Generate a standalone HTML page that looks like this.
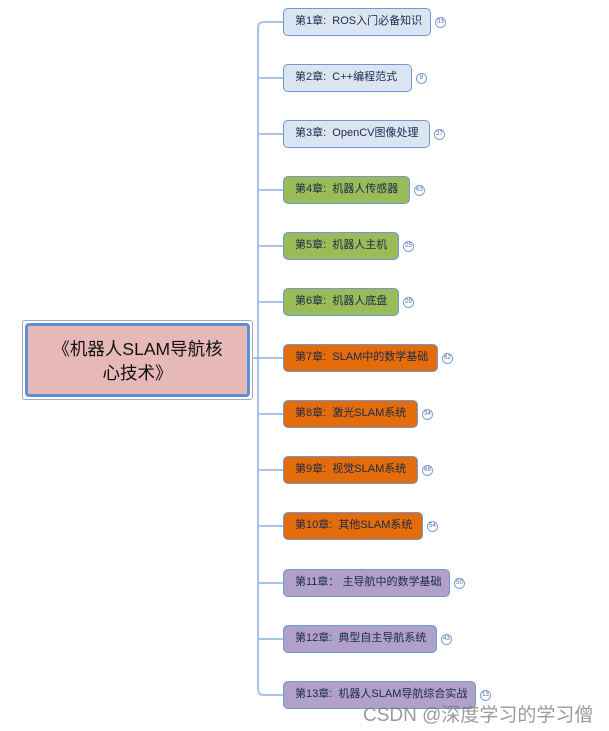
<!DOCTYPE html>
<html><head><meta charset="utf-8"><style>
body{margin:0;width:609px;height:731px;background:#fff;position:relative;overflow:hidden;font-family:"Liberation Sans","Noto Sans CJK SC",sans-serif}
.n{position:absolute;left:283px;height:28px;border:1.5px solid #6f98d4;border-radius:5px;box-sizing:border-box;font-size:11px;color:#1a2a4a;line-height:25px;padding-left:11px;white-space:nowrap}
.b{background:#dbe5f2}.g{background:#9bbb59}.o{background:#e46c0a}.p{background:#b1a0c7}
.c{position:absolute;width:9px;height:9px;border:1px solid #7aa0d4;border-radius:50%;font-size:6px;color:#4a6fa5;text-align:center;line-height:9px;background:#fff}
</style></head><body>
<svg width="609" height="731" style="position:absolute;left:0;top:0">
<g fill="none" stroke="#a9c3e6" stroke-width="2">
<path d="M283 22 H264 Q258 22 258 28 V689 Q258 695 264 695 H283"/>
<path d="M258 78H283M258 134H283M258 190H283M258 246H283M258 302H283M258 414H283M258 470H283M258 526H283M258 583H283M258 639H283"/>
</g>
<path d="M253 358H283" stroke="#7aa0d4" stroke-width="1.2"/>
</svg>
<div style="position:absolute;left:22px;top:320px;width:231px;height:80px;border:1px solid #aaa;border-radius:3px;box-sizing:border-box"></div>
<div style="position:absolute;left:25px;top:323px;width:225px;height:74px;border:3px solid #5b8fd6;border-radius:4px;background:#e6b8b7;box-sizing:border-box;font-size:17.5px;color:#111;text-align:center;line-height:24px;padding-top:11px">《机器人SLAM导航核<br>心技术》</div>

<div class="n b" style="top:8px;width:148px">第1章:&nbsp; ROS入门必备知识</div><div class="c" style="left:435px;top:17px">33</div>
<div class="n b" style="top:64px;width:129px">第2章:&nbsp; C++编程范式</div><div class="c" style="left:416px;top:73px">8</div>
<div class="n b" style="top:120px;width:147px">第3章:&nbsp; OpenCV图像处理</div><div class="c" style="left:434px;top:129px">27</div>
<div class="n g" style="top:176px;width:127px">第4章:&nbsp; 机器人传感器</div><div class="c" style="left:414px;top:185px">63</div>
<div class="n g" style="top:232px;width:116px">第5章:&nbsp; 机器人主机</div><div class="c" style="left:403px;top:241px">25</div>
<div class="n g" style="top:288px;width:116px">第6章:&nbsp; 机器人底盘</div><div class="c" style="left:403px;top:297px">29</div>
<div class="n o" style="top:344px;width:155px">第7章:&nbsp; SLAM中的数学基础</div><div class="c" style="left:442px;top:353px">62</div>
<div class="n o" style="top:400px;width:135px">第8章:&nbsp; 激光SLAM系统</div><div class="c" style="left:422px;top:409px">34</div>
<div class="n o" style="top:456px;width:135px">第9章:&nbsp; 视觉SLAM系统</div><div class="c" style="left:422px;top:465px">68</div>
<div class="n o" style="top:512px;width:140px">第10章:&nbsp; 其他SLAM系统</div><div class="c" style="left:427px;top:521px">54</div>
<div class="n p" style="top:569px;width:167px">第11章：&nbsp;主导航中的数学基础</div><div class="c" style="left:454px;top:578px">50</div>
<div class="n p" style="top:625px;width:154px">第12章:&nbsp; 典型自主导航系统</div><div class="c" style="left:441px;top:634px">43</div>
<div class="n p" style="top:681px;width:193px">第13章:&nbsp; 机器人SLAM导航综合实战</div><div class="c" style="left:480px;top:690px">13</div>
<div style="position:absolute;left:363px;top:700px;font-size:19px;color:rgba(120,120,120,0.75);white-space:nowrap">CSDN @深度学习的学习僧</div>
</body></html>
